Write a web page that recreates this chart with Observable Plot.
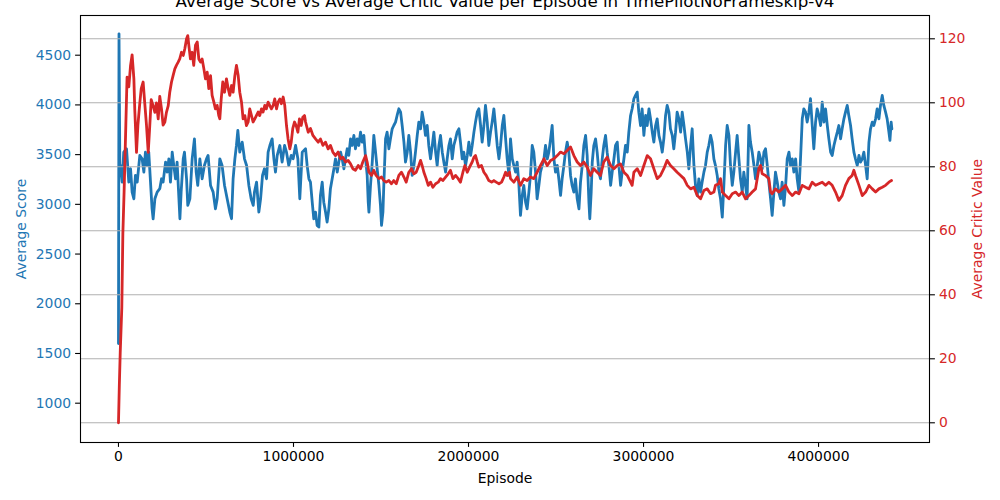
<!DOCTYPE html>
<html>
<head>
<meta charset="utf-8">
<script src="https://cdn.jsdelivr.net/npm/d3@7"></script>
<script src="https://cdn.jsdelivr.net/npm/@observablehq/plot@0.6"></script>
<style>
  html, body { margin: 0; padding: 0; background: #fff; }
  #chart svg { display: block; }
</style>
</head>
<body>
<div id="chart"></div>
<script>
const chartTitle = "Average Score vs Average Critic Value per Episode in TimePilotNoFrameskip-v4";
const xLabel = "Episode";
const leftLabel = "Average Score";
const rightLabel = "Average Critic Value";
const xTicks = [0, 1000000, 2000000, 3000000, 4000000];
const scoreTicks = [1000, 1500, 2000, 2500, 3000, 3500, 4000, 4500];
const criticTicks = [0, 20, 40, 60, 80, 100, 120];

// [episode, average score]
const scoreSeries = [
[0,1600],[3e3,4715],[8e3,3300],[11e3,3391],[21e3,3224],[30e3,3525],[46e3,3559],[59e3,3224],[69e3,3358],[78e3,3123],[88e3,3056],[97e3,3291],[107e3,3224],[122e3,3492],[135e3,3458],[145e3,3324],[154e3,3525],[164e3,3391],[173e3,3525],[183e3,3224],[192e3,2955],[198e3,2855],[208e3,3056],[221e3,3123],[236e3,3157],[246e3,3257],[255e3,3224],[269e3,3425],[278e3,3324],[288e3,3458],[297e3,3224],[307e3,3525],[316e3,3391],[326e3,3257],[335e3,3425],[351e3,2855],[358e3,3123],[370e3,3458],[377e3,3525],[389e3,3257],[396e3,2989],[408e3,3056],[421e3,3458],[434e3,3659],[444e3,3324],[453e3,3190],[465e3,3458],[478e3,3257],[491e3,3391],[503e3,3458],[512e3,3492],[526e3,3190],[541e3,3123],[554e3,2955],[564e3,3056],[579e3,3458],[592e3,3391],[606e3,3190],[621e3,3056],[636e3,2922],[646e3,2855],[655e3,3257],[665e3,3458],[674e3,3592],[682e3,3743],[693e3,3525],[707e3,3626],[720e3,3458],[732e3,3391],[745e3,3190],[758e3,3056],[770e3,2989],[777e3,3123],[789e3,3224],[802e3,2922],[812e3,3056],[823e3,3291],[834e3,3358],[846e3,3257],[855e3,3525],[865e3,3592],[878e3,3659],[888e3,3458],[897e3,3324],[907e3,3492],[922e3,3592],[935e3,3425],[949e3,3592],[960e3,3525],[973e3,3391],[987e3,3492],[998e3,3458],[1012e3,3592],[1025e3,3458],[1036e3,3056],[1050e3,3525],
[1069e3,3559],[1078e3,3391],[1088e3,3257],[1097e3,3224],[1107e3,3022],[1116e3,2855],[1126e3,2922],[1135e3,2788],[1145e3,2771],[1154e3,3090],[1164e3,3224],[1173e3,3022],[1183e3,2922],[1192e3,2821],[1202e3,2955],[1211e3,3157],[1221e3,3257],[1231e3,3358],[1240e3,3458],[1250e3,3324],[1259e3,3425],[1269e3,3525],[1278e3,3458],[1288e3,3358],[1297e3,3458],[1307e3,3559],[1316e3,3492],[1326e3,3659],[1335e3,3592],[1345e3,3693],[1354e3,3559],[1364e3,3659],[1373e3,3592],[1383e3,3726],[1392e3,3626],[1402e3,3693],[1412e3,3458],[1421e3,3291],[1427e3,3022],[1431e3,2922],[1440e3,3190],[1450e3,3425],[1459e3,3693],[1469e3,3525],[1478e3,3358],[1488e3,3190],[1497e3,2989],[1503e3,2788],[1511e3,2922],[1516e3,3190],[1526e3,3659],[1535e3,3726],[1545e3,3559],[1554e3,3659],[1564e3,3760],[1573e3,3793],[1583e3,3827],[1592e3,3894],[1602e3,3961],[1612e3,3927],[1621e3,3793],[1631e3,3626],[1640e3,3425],[1650e3,3525],[1659e3,3693],[1669e3,3525],[1678e3,3291],[1688e3,3391],[1697e3,3525],[1707e3,3693],[1716e3,3827],[1726e3,3760],[1735e3,3927],[1745e3,3827],[1754e3,3693],[1764e3,3793],[1773e3,3592],[1783e3,3458],[1793e3,3592],[1802e3,3726],[1812e3,3525],[1821e3,3391],[1831e3,3592],[1840e3,3693],[1850e3,3525],[1859e3,3425],[1869e3,3324],[1878e3,3458],[1888e3,3592],[1897e3,3659],[1907e3,3458],[1916e3,3592],[1926e3,3659],[1935e3,3726],[1945e3,3760],[1954e3,3626],[1964e3,3458],[1973e3,3525],[1983e3,3391],[1993e3,3492],[2002e3,3626],[2012e3,3492],[2021e3,3592],[2031e3,3726],[2040e3,3827],[2050e3,3927],[2059e3,3961],[2069e3,3793],[2078e3,3626],[2088e3,3793],[2097e3,3995],[2107e3,3827],[2116e3,3592],[2126e3,3726],[2135e3,3827],[2145e3,3961],[2154e3,3793],[2164e3,3592],[2174e3,3458],[2183e3,3592],[2193e3,3793],[2202e3,3894],[2212e3,3659],[2221e3,3458],[2231e3,3291],
[2240e3,3659],[2250e3,3458],[2259e3,3391],[2269e3,3324],[2278e3,3425],[2288e3,3190],[2297e3,2889],[2307e3,3090],[2316e3,3190],[2326e3,3022],[2335e3,2955],[2345e3,3123],[2354e3,3291],[2364e3,3592],[2373e3,3525],[2383e3,3324],[2392e3,3056],[2402e3,3190],[2411e3,3324],[2421e3,3391],[2431e3,3458],[2440e3,3592],[2450e3,3458],[2459e3,3525],[2469e3,3659],[2478e3,3793],[2488e3,3458],[2497e3,3324],[2507e3,3391],[2516e3,3257],[2526e3,3090],[2535e3,3257],[2545e3,3391],[2554e3,3525],[2564e3,3626],[2573e3,3525],[2583e3,3291],[2592e3,3190],[2602e3,3123],[2611e3,3257],[2621e3,3056],[2631e3,2955],[2640e3,3224],[2650e3,3391],[2659e3,3592],[2669e3,3693],[2678e3,3492],[2688e3,3022],[2693e3,2855],[2701e3,3123],[2707e3,3425],[2716e3,3592],[2726e3,3659],[2735e3,3525],[2745e3,3324],[2754e3,3257],[2764e3,3458],[2773e3,3592],[2783e3,3693],[2792e3,3525],[2802e3,3391],[2812e3,3190],[2821e3,3324],[2831e3,3458],[2840e3,3592],[2850e3,3626],[2859e3,3391],[2869e3,3190],[2878e3,3324],[2888e3,3458],[2897e3,3592],[2907e3,3525],[2916e3,3726],[2926e3,3894],[2935e3,3961],[2945e3,4062],[2954e3,4095],[2964e3,4129],[2973e3,3927],[2983e3,3793],[2992e3,3961],[3002e3,3693],[3012e3,3894],[3021e3,3793],[3031e3,3961],[3040e3,3860],[3050e3,3726],[3059e3,3626],[3069e3,3793],[3078e3,3860],[3088e3,3693],[3097e3,3626],[3107e3,3525],[3116e3,3659],[3126e3,3894],[3135e3,3995],[3145e3,3927],[3154e3,3760],[3164e3,3693],[3173e3,3559],[3183e3,3726],[3192e3,3927],[3202e3,3860],[3212e3,3726],[3221e3,3927],[3231e3,3793],[3240e3,3659],[3250e3,3525],[3259e3,3358],[3269e3,3592],[3278e3,3760],[3288e3,3391],[3297e3,3190],[3307e3,3090],[3316e3,3257],[3326e3,3123],[3335e3,3224],[3345e3,3324],[3354e3,3391],[3364e3,3525],[3373e3,3592],[3383e3,3693],[3392e3,3626],[3402e3,3458],
[3411e3,3391],[3421e3,3291],[3430e3,3157],[3440e3,3056],[3450e3,2872],[3459e3,3190],[3469e3,3592],[3478e3,3793],[3488e3,3693],[3497e3,3391],[3507e3,3190],[3516e3,3324],[3526e3,3525],[3535e3,3693],[3545e3,3458],[3554e3,3257],[3564e3,3123],[3573e3,3324],[3583e3,3190],[3592e3,3056],[3602e3,3793],[3611e3,3626],[3621e3,3525],[3631e3,3391],[3640e3,3257],[3650e3,3391],[3659e3,3525],[3669e3,3458],[3678e3,3358],[3688e3,3525],[3697e3,3559],[3707e3,3391],[3716e3,3224],[3726e3,3056],[3735e3,2889],[3745e3,3123],[3754e3,3324],[3764e3,3224],[3773e3,3123],[3783e3,3056],[3792e3,3224],[3802e3,2989],[3812e3,3190],[3821e3,3458],[3831e3,3525],[3840e3,3391],[3850e3,3458],[3859e3,3324],[3869e3,3458],[3878e3,3257],[3888e3,3123],[3897e3,3458],[3907e3,3860],[3916e3,3961],[3926e3,3927],[3935e3,3827],[3945e3,3927],[3954e3,4062],[3964e3,3793],[3973e3,3559],[3983e3,3827],[3992e3,3961],[4002e3,3894],[4012e3,3793],[4021e3,4028],[4031e3,3827],[4040e3,3961],[4050e3,3793],[4059e3,3659],[4069e3,3525],[4078e3,3492],[4088e3,3592],[4097e3,3659],[4107e3,3726],[4116e3,3793],[4126e3,3659],[4135e3,3760],[4145e3,3860],[4154e3,3927],[4164e3,3995],[4173e3,3894],[4183e3,3793],[4192e3,3659],[4202e3,3525],[4211e3,3458],[4221e3,3391],[4231e3,3492],[4240e3,3425],[4250e3,3458],[4259e3,3525],[4269e3,3391],[4278e3,3257],[4288e3,3626],[4297e3,3760],[4307e3,3827],[4316e3,3793],[4326e3,3860],[4335e3,3961],[4345e3,3860],[4354e3,3995],[4364e3,4095],[4373e3,3995],[4383e3,3927],[4392e3,3860],[4402e3,3726],[4408e3,3643],[4415e3,3827],[4419e3,3760]
];

// [episode, average critic value]
const criticSeries = [
[0,0],[5e3,12],[10e3,22],[19e3,36],[25e3,59],[32e3,72],[42e3,93],[49e3,108],[59e3,105],[69e3,111.7],[78e3,115],[88e3,107.5],[93e3,98],[103e3,84.5],[111e3,93],[122e3,100],[130e3,104.4],[141e3,106.5],[150e3,100],[160e3,93],[170e3,84.5],[179e3,93],[187e3,101],[198e3,99],[208e3,97],[217e3,100],[227e3,95],[236e3,102],[246e3,98],[255e3,93],[265e3,94],[274e3,97],[284e3,99],[293e3,103.3],[303e3,106.5],[312e3,108.5],[322e3,110.6],[331e3,111.7],[341e3,112.7],[350e3,113.7],[360e3,115.8],[370e3,114.8],[379e3,116.9],[389e3,120],[396e3,121],[404e3,117],[411e3,113.7],[421e3,115.8],[430e3,111.7],[440e3,118],[450e3,119],[459e3,113.7],[469e3,112.7],[478e3,113.7],[488e3,110.6],[497e3,107.5],[507e3,109.6],[516e3,104.4],[526e3,108.5],[535e3,102.3],[545e3,100.2],[554e3,98.1],[564e3,99.2],[573e3,96],[579e3,95],[587e3,101.2],[596e3,106.5],[606e3,103.3],[617e3,107.5],[627e3,104.4],[636e3,102.3],[646e3,105.4],[655e3,103.3],[665e3,108.5],[674e3,111.7],[684e3,108.5],[693e3,103.3],[703e3,100.2],[712e3,95],[722e3,96],[731e3,92.9],[741e3,94],[750e3,98.1],[760e3,96],[769e3,94],[779e3,95],[788e3,96],[798e3,97.1],[807e3,96],[817e3,98.1],[826e3,97.1],[836e3,99.2],[845e3,98.1],[855e3,100.2],[864e3,99.2],[874e3,98.1],[884e3,99.2],[893e3,101.2],[903e3,98.1],[912e3,100.2],[922e3,101.2],[931e3,99.7],[941e3,101.8],[950e3,99.2],[960e3,92.9],[969e3,88.7],[979e3,85.6],[987e3,87.7],[996e3,92],[1006e3,94],[1015e3,92.9],[1025e3,90.8],[1034e3,95],[1044e3,92.9],[1053e3,95.5],[1063e3,96],
[1069e3,94],[1084e3,90.8],[1097e3,92],[1111e3,89.8],[1126e3,88.7],[1141e3,87.7],[1154e3,88.7],[1168e3,86.7],[1183e3,87.7],[1198e3,85.6],[1211e3,86.7],[1225e3,84.6],[1240e3,83.5],[1255e3,84.6],[1269e3,82.5],[1282e3,83],[1297e3,81.5],[1312e3,82],[1326e3,80.9],[1339e3,79.4],[1354e3,78.9],[1370e3,80.4],[1383e3,79.4],[1396e3,81.5],[1412e3,83.5],[1421e3,81.5],[1431e3,78.3],[1446e3,77.3],[1459e3,78.9],[1472e3,77.3],[1488e3,76.3],[1503e3,76.8],[1516e3,75.7],[1530e3,75.2],[1545e3,75.7],[1560e3,74.7],[1573e3,75.7],[1587e3,74.7],[1602e3,77.3],[1617e3,78.3],[1631e3,76.8],[1644e3,75.2],[1659e3,78.3],[1674e3,79.4],[1688e3,77.8],[1701e3,78.3],[1716e3,80.4],[1726e3,82],[1735e3,80.4],[1745e3,78.3],[1758e3,76.3],[1770e3,74.2],[1783e3,75.2],[1796e3,73.6],[1812e3,74.7],[1827e3,75.2],[1840e3,76.3],[1853e3,75.7],[1869e3,76.8],[1884e3,77.8],[1897e3,78.9],[1911e3,76.3],[1926e3,77.3],[1941e3,76.3],[1954e3,75.2],[1968e3,78.3],[1979e3,80.4],[1993e3,78.3],[2006e3,79.9],[2021e3,81.5],[2031e3,83],[2040e3,83.5],[2050e3,81.5],[2059e3,79.9],[2074e3,80.4],[2088e3,78.3],[2101e3,77.3],[2116e3,75.7],[2132e3,75.2],[2145e3,75.7],[2158e3,75.2],[2174e3,74.7],[2189e3,75.2],[2202e3,76.8],[2212e3,78.3],[2221e3,77.3],[2234e3,78.3],
[2240e3,76.3],[2259e3,75.2],[2278e3,76.8],[2297e3,74.2],[2316e3,76.3],[2335e3,75.7],[2354e3,76.8],[2373e3,76.3],[2392e3,78.3],[2411e3,80.4],[2431e3,82.5],[2450e3,80.4],[2469e3,82],[2488e3,82.5],[2507e3,83.5],[2526e3,84.6],[2545e3,84.1],[2564e3,85.1],[2583e3,86.2],[2602e3,83.5],[2621e3,81.5],[2640e3,80.4],[2659e3,81.5],[2678e3,79.9],[2697e3,77.3],[2716e3,79.4],[2735e3,78.3],[2754e3,77.3],[2773e3,81.5],[2792e3,83],[2812e3,80.4],[2831e3,79.4],[2850e3,80.4],[2869e3,80.9],[2888e3,78.3],[2907e3,77.3],[2926e3,75.2],[2935e3,74.2],[2945e3,78.3],[2964e3,79.4],[2983e3,77.3],[3002e3,80.4],[3021e3,83.5],[3040e3,82.5],[3059e3,79.4],[3078e3,76.3],[3097e3,77.3],[3116e3,79.4],[3135e3,82],[3154e3,80.4],[3173e3,79.4],[3192e3,78.3],[3212e3,77.3],[3231e3,76.3],[3250e3,74.2],[3269e3,73.1],[3288e3,73.6],[3307e3,71],[3326e3,70],[3345e3,72.6],[3364e3,73.1],[3383e3,71.6],[3402e3,72.1],
[3411e3,74.2],[3430e3,74.7],[3440e3,76.3],[3450e3,72.1],[3469e3,71],[3488e3,70],[3507e3,71.6],[3526e3,72.1],[3545e3,71],[3564e3,72.1],[3583e3,70],[3602e3,71],[3621e3,72.1],[3640e3,73.1],[3659e3,79.4],[3669e3,80.4],[3678e3,77.8],[3697e3,77.3],[3716e3,76.3],[3726e3,72.1],[3735e3,71.6],[3754e3,73.1],[3773e3,72.1],[3792e3,73.1],[3812e3,74.2],[3831e3,72.1],[3850e3,71],[3869e3,72.1],[3888e3,71.6],[3907e3,74.2],[3926e3,73.6],[3945e3,73.1],[3964e3,75.2],[3983e3,74.2],[4002e3,74.7],[4021e3,75.2],[4040e3,74.2],[4059e3,75.2],[4078e3,74.2],[4097e3,72.1],[4116e3,69.5],[4135e3,71],[4154e3,74.2],[4173e3,76.3],[4192e3,77.3],[4202e3,78.9],[4211e3,77.3],[4231e3,74.2],[4250e3,71],[4269e3,72.1],[4288e3,74.2],[4307e3,73.1],[4326e3,72.1],[4345e3,73.1],[4364e3,73.6],[4383e3,74.2],[4402e3,75.2],[4417e3,75.7]
];

const blue = "#1f77b4";
const red = "#d62728";

const xDomain = [-217000, 4634000];
const scoreDomain = [604.7, 4899.3];
const criticDomain = [-6.16, 127.28];
// map critic values onto the score axis so both share the plot's y scale
const criticToScore = d3.scaleLinear().domain(criticDomain).range(scoreDomain);

const scoreData = scoreSeries.map(([episode, value]) => ({episode, value}));
const criticData = criticSeries.map(([episode, value]) => ({episode, value}));

const plot = Plot.plot({
  width: 1000,
  height: 500,
  marginLeft: 80,
  marginRight: 71,
  marginTop: 15,
  marginBottom: 58,
  style: {fontFamily: "'DejaVu Sans', sans-serif", fontSize: "13.9px", background: "white", overflow: "visible"},
  x: {domain: xDomain},
  y: {domain: scoreDomain},
  marks: [
    Plot.line(scoreData, {x: "episode", y: "value", stroke: blue, strokeWidth: 2.8, strokeLinejoin: "round"}),
    Plot.ruleY(criticTicks, {y: d => criticToScore(d), stroke: "#b0b0b0", strokeWidth: 1.1}),
    Plot.line(criticData, {x: "episode", y: d => criticToScore(d.value), stroke: red, strokeWidth: 2.8, strokeLinejoin: "round"}),
    Plot.frame({stroke: "black", strokeWidth: 1.1}),
    Plot.axisX(xTicks, {anchor: "bottom", tickSize: 4.9, tickPadding: 4, tickFormat: d3.format("d"), stroke: "black", fill: "black", strokeWidth: 1.1, label: null}),
    Plot.axisY(scoreTicks, {anchor: "left", tickSize: 4.9, tickPadding: 4.5, tickFormat: d3.format("d"), stroke: "black", fill: blue, strokeWidth: 1.1, label: null}),
    Plot.axisY(criticTicks.map(d => criticToScore(d)), {anchor: "right", tickSize: 4.9, tickPadding: 4.5, stroke: "black", fill: red, strokeWidth: 1.1, tickFormat: d => String(Math.round(criticToScore.invert(d))), label: null}),
    Plot.text([chartTitle], {text: d => d, frameAnchor: "top", dy: -8.3, lineAnchor: "bottom", fontSize: 16.7, fill: "black"}),
    Plot.text([xLabel], {text: d => d, frameAnchor: "bottom", dy: 35.7, lineAnchor: "middle", fill: "black"}),
    Plot.text([leftLabel], {text: d => d, frameAnchor: "left", dx: -59, rotate: -90, textAnchor: "middle", lineAnchor: "middle", fill: blue}),
    Plot.text([rightLabel], {text: d => d, frameAnchor: "right", dx: 47.7, rotate: -90, textAnchor: "middle", lineAnchor: "middle", fill: red})
  ]
});
document.getElementById("chart").appendChild(plot);
</script>
</body>
</html>
